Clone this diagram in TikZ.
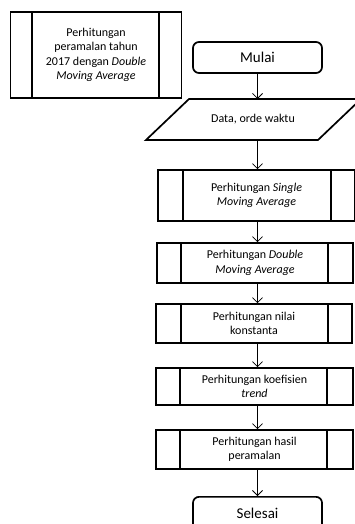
\documentclass[tikz,border=0pt]{standalone}
\usepackage{fontspec}
\setmainfont{Carlito}
\usetikzlibrary{arrows.meta}
\begin{document}
\begin{tikzpicture}[x=1pt,y=-1pt,
  txt/.style={font=\fontsize{12}{14.4}\selectfont, align=center},
  box/.style={draw, line width=1.7pt, inner sep=0pt, txt},
  % predefined-process box: two inner vertical bars
  proc/.style 2 args={box, path picture={
      \draw[line width=1.7pt]
        ([xshift=#1]path picture bounding box.north west) --
        ([xshift=#1]path picture bounding box.south west)
        ([xshift=-#2]path picture bounding box.north east) --
        ([xshift=-#2]path picture bounding box.south east);}},
  term/.style={draw, line width=1.7pt, rounded corners=6pt, inner sep=0pt,
    font=\fontsize{15}{18}\selectfont},
  flow/.style={line width=0.8pt, -{Straight Barb[length=5pt,width=10pt]}}
]
\useasboundingbox (0,0) rectangle (355,524);
\clip (0,0) rectangle (355,524);

% title block
\node[proc={21.5pt}{22.5pt}, minimum width=171pt, minimum height=86pt] (title) at (96,55)
  {Perhitungan\\peramalan tahun\\2017 dengan \textit{Double}\\\textit{Moving Average}};

% start
\node[term, minimum width=129pt, minimum height=31pt] (mulai) at (257.5,57.5) {Mulai};

% input data (parallelogram)
\draw[line width=1.7pt] (189,99) -- (361,99) -- (318,140) -- (146,140) -- cycle;
\node[txt] (data) at (253,119.5) {Data, orde waktu};
\coordinate (datatop) at (257.5,99);
\coordinate (databot) at (257.5,140);

% processing steps
\node[proc={25pt}{24pt}, minimum width=197pt, minimum height=51pt] (single) at (256.5,195.5)
  {Perhitungan \textit{Single}\\\textit{Moving Average}};
\node[proc={24pt}{25pt}, minimum width=196pt, minimum height=40pt] (double) at (255,263)
  {Perhitungan \textit{Double}\\\textit{Moving Average}};
\node[proc={25pt}{24pt}, minimum width=196pt, minimum height=39pt] (nilai) at (254,323.5)
  {Perhitungan nilai\\konstanta};
\node[proc={24pt}{26pt}, minimum width=197pt, minimum height=37pt] (koef) at (254.5,386.5)
  {Perhitungan koefisien\\\textit{trend}};
\node[proc={24pt}{26pt}, minimum width=197pt, minimum height=39pt] (hasil) at (254.5,449.5)
  {Perhitungan hasil\\peramalan};

% end (runs past the lower edge)
\node[term, minimum width=129pt, minimum height=44pt, anchor=north] (selesai) at (257.5,496) {};
\node[font=\fontsize{15}{18}\selectfont] (selesaitxt) at (257.5,513) {Selesai};

% connectors
\draw[flow] (mulai.south) -- (datatop);
\draw[flow] (databot) -- (databot |- single.north);
\draw[flow] (single.south -| mulai) -- (double.north -| mulai);
\draw[flow] (double.south -| mulai) -- (nilai.north -| mulai);
\draw[flow] (nilai.south -| mulai) -- (koef.north -| mulai);
\draw[flow] (koef.south -| mulai) -- (hasil.north -| mulai);
\draw[flow] (hasil.south -| mulai) -- (selesai.north);
\end{tikzpicture}
\end{document}
